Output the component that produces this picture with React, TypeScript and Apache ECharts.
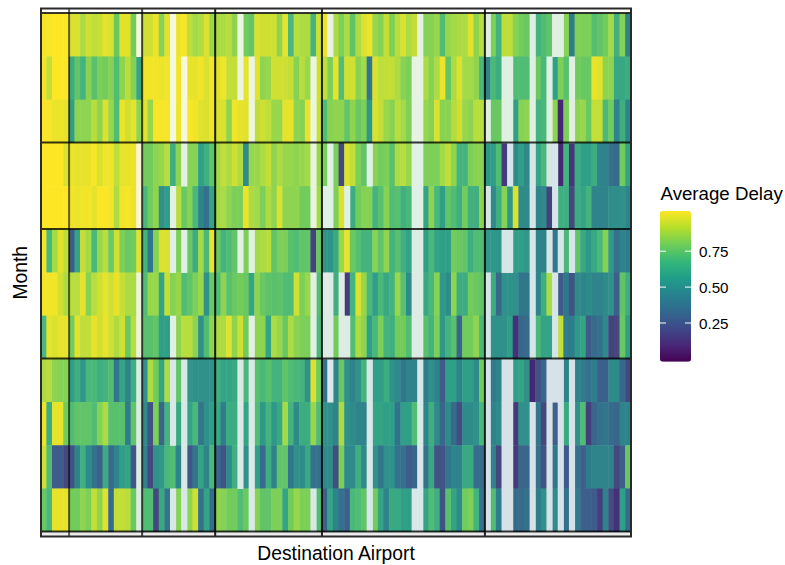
import React, { useEffect, useRef } from "react";
import * as echarts from "echarts";

const N = null;

const months = ["1", "2", "3", "4", "5", "6", "7", "8", "9", "10", "11", "12"];
const colGroupEnds = [5, 18, 31, 50, 79, 105];
const rowGroupEnds = [3, 5, 8, 12];
const legendTicks = ["0.25", "0.50", "0.75"];

const m1 = [.97,.98,1,1,1,
 .9,.9,.82,.88,.85,.87,.93,.9,.68,.92,.92,.7,N,
 .88,.88,.95,.74,.92,N,.95,.98,.85,.8,.83,.9,.78,
 .82,.82,.84,.76,N,.7,.66,.9,.88,.88,.88,.76,.93,.6,.84,.82,.82,.58,.88,
 .95,N,.82,.72,.82,.66,.82,.9,.95,.78,.74,.86,.72,.84,.9,.82,.86,N,.74,.74,.78,.62,.78,.8,.82,.82,.92,.76,.84,
 N,.72,.58,.85,.85,.74,.7,.68,N,.58,.62,.66,N,N,.74,.4,.73,.72,.72,.63,.66,.7,.8,.57,.74,.42];
const m2 = [.97,.86,1,1,1,
 .55,.66,.58,.75,.64,.72,.7,.74,.62,.76,.84,.74,.52,
 .97,.97,.97,.95,.96,N,.97,N,.94,.94,.97,.9,.96,
 .92,.96,.86,.86,N,.93,N,.92,.76,.78,.88,.88,.88,.86,.74,.84,.78,N,.88,
 .85,.72,.93,.62,.88,.88,.75,.8,.38,.9,.85,.86,.86,.82,.75,.72,N,N,.82,.74,.82,.95,.66,.82,.9,.8,.8,.76,.6,
 .42,.6,.55,N,N,.62,.62,.62,N,.68,.6,N,.5,.72,.64,N,.7,.68,.68,.94,.92,.76,.76,.53,.53,.55];
const m3 = [.99,.98,.95,.95,.93,
 .5,.76,.76,.76,.84,.76,.9,.78,.62,.95,.88,.93,.76,
 .92,.78,.98,.98,.98,N,.96,N,.98,.97,.92,.9,.96,
 .9,.9,.76,.96,.94,.92,N,.85,.88,.85,.78,.78,.93,.93,.76,.74,.94,N,.87,
 .62,.75,.76,.76,.66,.76,.68,.72,.48,.9,.86,.78,.74,.84,.8,.73,N,N,.78,.74,.9,.75,.75,.83,.88,.78,.76,.84,.84,
 N,.68,.68,N,N,.5,.74,.76,N,.58,.6,N,.76,.08,.72,N,.76,.78,.68,.86,.86,.6,.7,.42,.56,.42];
const m4 = [1,1,1,1,.9,
 .95,.93,.94,.94,.98,.9,.96,.96,.85,.93,.94,.95,N,
 .7,.7,.76,.78,.84,.56,.76,N,.74,.74,.5,.56,.66,
 .8,.86,.82,.88,.82,.44,.78,.78,.82,.86,.76,.82,.78,.78,.76,.78,.8,N,.78,
 .72,N,.72,.2,.9,.86,.72,.66,N,.75,.7,.72,.64,.82,.84,.78,N,N,.73,.72,.72,.8,.85,.76,.58,.58,.72,.75,.75,
 .48,.5,.62,.14,N,.44,.5,.44,N,.52,.6,N,N,.08,.58,.12,.55,.5,.5,.55,.42,.42,.36,.34,.7,.52];
const m5 = [1,1,1,1,1,
 .97,.95,.96,.97,.93,.99,.99,.97,.82,.97,.98,.95,N,
 .6,.7,.76,.46,.5,N,.84,.68,.74,.6,.42,.36,.52,
 .8,.82,.76,.72,.72,.95,.82,.8,.72,.82,.76,.9,.76,.76,.76,.7,.7,N,.8,
 N,N,.72,.9,N,.55,.7,.74,.74,.58,.64,.74,.62,.64,.57,.6,N,N,.52,.76,.6,.5,.66,.62,.56,.7,.57,.57,.76,
 N,.44,.56,.74,.48,.9,.44,.44,N,.42,.44,.18,N,.56,.56,.2,.55,.52,.58,.42,.42,.42,.45,.45,.46,.42];
const m6 = [.97,.6,.8,.92,.85,
 .28,.52,.86,.8,.6,.78,.84,.68,.88,.72,.68,.7,.92,
 .58,.38,.74,.9,.9,N,.72,N,.68,.55,.8,.6,.95,
 .68,.58,.62,.66,N,.72,N,.8,.82,.84,.66,.72,.72,.64,.62,.66,.66,.18,.68,
 .47,.47,.54,.78,.93,.68,.63,.58,.58,.74,.66,.76,.58,.64,.56,.52,N,N,.5,.6,.52,.5,.5,.7,.68,.66,.56,.62,.62,
 .48,.48,.47,N,N,.5,.5,.48,N,.42,.42,N,.38,N,.6,N,.66,.54,.48,.54,.6,.74,.48,.36,.42,.4];
const m7 = [.97,.97,.97,.88,.82,
 .84,.84,.93,.74,.84,.88,.93,.88,.94,.86,.82,.82,N,
 .62,.78,.78,.52,.86,.74,.78,.62,.66,.72,.78,.46,.68,
 .62,.76,.64,.68,.7,.68,.52,.76,.68,.65,.64,.65,.62,.62,.88,.72,.78,N,.62,
 N,N,.56,N,.14,.58,.9,.78,.6,.5,.6,.54,.58,.78,.64,.44,N,N,.54,.6,.74,.48,.44,.76,.55,.55,.7,.68,.66,
 N,.55,.33,.46,.46,.46,.38,.38,N,.42,.56,.82,N,.28,.38,.24,.44,.42,.44,.42,.42,.44,.46,.3,.66,.56];
const m8 = [.6,.93,.9,.93,.93,
 .7,.92,.85,.86,.94,.88,.94,.88,.82,.88,.68,.84,N,
 .64,.64,.66,.5,.5,N,.76,.84,.84,.76,.46,.62,.76,
 .82,.82,.92,.76,.88,.7,N,.76,.76,.52,.82,.78,.68,.82,.75,.72,.72,N,.6,
 N,N,.7,N,N,.62,.82,.76,.5,.6,.72,.58,.56,.7,.7,.62,N,N,.64,.58,.72,.48,.58,.64,.32,.7,.7,.76,.6,
 N,.46,.46,.46,.5,.1,.32,.34,N,.6,.52,.52,N,.86,.4,.4,.48,.52,.28,.34,.36,.44,.18,.2,.68,.5];
const m9 = [.82,.84,.76,.74,.74,
 .5,.56,.48,.6,.6,.56,.58,.62,.38,.52,.42,.56,N,
 .46,.82,.7,.52,.82,N,.66,N,.48,.46,.46,.46,.46,
 .56,.52,.52,.54,N,.6,N,.64,.6,.64,.58,.58,.66,.62,.6,.58,.46,.9,.7,
 .36,N,.42,.68,.46,.42,.46,.58,N,.5,.5,.55,.46,.44,.38,.42,.42,N,.4,.46,.42,.28,.5,.5,.42,.5,.5,.44,.7,
 N,.4,.42,N,N,.5,.52,.46,.08,.24,.32,N,N,N,.42,N,.42,.4,.36,.4,.3,.3,.44,.44,.33,.2];
const m10 = [.95,.55,.93,.93,.7,
 .62,.66,.66,.66,.62,.74,.82,.64,.64,.64,.4,.66,N,
 .44,.24,.72,.32,.58,N,.54,N,.52,.6,.38,.46,.5,
 .54,.4,.55,.55,N,.52,N,.62,.48,.58,.48,.54,.8,.58,.44,.55,.55,.78,.62,
 .46,.46,.42,.82,.46,.44,.42,.42,N,.52,.52,.5,.5,.36,.5,.5,.62,N,.42,.56,.44,.32,.44,.34,.22,.44,.44,.46,.6,
 N,.42,.44,N,N,.14,.46,.46,N,.38,.2,N,.3,N,.54,N,.46,.62,.16,.32,.36,.38,.34,.32,.42,.42];
const m11 = [.88,.62,.28,.28,.2,
 .24,.42,.56,.44,.36,.3,.55,.34,.42,.5,.52,.26,N,
 .42,.2,.46,.48,.6,.62,.42,N,.26,.38,.52,.42,.6,
 .32,.24,.44,.56,N,.46,N,.5,.34,.56,.42,.66,.66,.38,.46,.44,.54,.36,.36,
 .44,.44,.22,.72,.44,.44,.56,.44,N,.46,.38,.46,.46,.36,.36,.28,.32,N,.36,.54,.25,.25,.38,.42,.42,.54,.54,.34,.34,
 N,.42,.2,N,N,.14,.32,.32,N,.36,.24,N,.38,N,.28,N,.36,.3,.4,.42,.42,.42,.42,.2,.3,.68];
const m12 = [.68,.6,.94,.94,.94,
 .7,.7,.76,.72,.86,.76,.92,.34,.86,.86,.84,.68,N,
 .62,.62,.2,.54,.38,N,.74,N,.76,.88,.36,.52,.34,
 .76,.74,.7,.7,.62,.68,N,.74,.66,.66,.72,.72,.52,.7,.78,.72,.72,N,.62,
 .3,.52,.42,.36,.3,.6,.62,.66,N,.7,.52,.42,.54,.54,.5,.5,N,N,.52,.62,.56,.24,.64,.52,.44,.7,.72,.58,.36,
 N,.62,.4,N,N,.34,.34,.36,N,.4,.46,N,.44,N,.36,N,.4,.3,.3,.28,.16,.42,.22,.1,.5,.34];

const rows = [m1, m2, m3, m4, m5, m6, m7, m8, m9, m10, m11, m12];
const airports = m1.map((_, i) => `A${i + 1}`);

// Colour of a missing cell, by month group and airport group (a pale wash over white).
const missingWash = [
  ["#f6f7dc", "#f4f7d9", "#f6f8dc", "#ecf5de", "#e6f3e2", "#dff0e3"],
  ["#fdf8d8", "#fbf6d8", "#e2f1e2", "#e8f4dc", "#dff0e4", "#d6e6e8"],
  ["#ecf3dc", "#ecf3dc", "#e0f0e4", "#e2f0e2", "#dcece4", "#d6e6e8"],
  ["#dcebe2", "#dcebe2", "#d8e8e6", "#dae9e6", "#d8e8e8", "#d6e1e8"],
];

// The legend's pure scale, and the same scale as the cells show it (slightly washed).
const viridis = ["#440154", "#482878", "#3e4989", "#31688e", "#26828e", "#1f9e89", "#35b779", "#6ece58", "#b5de2b", "#fde725"];
const cellScale = ["#44055a", "#46307a", "#44487f", "#3c608b", "#2f7c8c", "#2f9f88", "#49b87a", "#72cc5c", "#a2da48", "#dae12e", "#fde725"];

const W = 785, H = 565;
const L = 41, R = 631, T = 13.5, B = 531.9;
const OUTER_T = 8.5, OUTER_B = 536.5;
const LEG_X = 660, LEG_T = 211, LEG_W = 31, LEG_H = 150.7;
const FONT = "Liberation Sans";
const colLineAlpha = [0.6, 0.72, 0.88, 0.85, 0.85];

function groupOf(ends: number[], i: number) {
  return ends.findIndex((e) => i < e);
}

export default function App() {
  const ref = useRef<HTMLDivElement>(null);
  useEffect(() => {
    document.body.style.margin = "0";
    const chart = echarts.init(ref.current!, undefined, { renderer: "svg" });
    const values: number[][] = [];
    const missing: number[][] = [];
    const G = colGroupEnds.length;
    rows.forEach((row, y) =>
      row.forEach((v, x) => {
        if (v === null) {
          missing.push([x, y, groupOf(rowGroupEnds, y) * G + groupOf(colGroupEnds, x)]);
        } else values.push([x, y, v as number]);
      })
    );
    const washPieces = missingWash.flat().map((color, i) => ({ value: i, color }));
    const cw = (R - L) / airports.length;
    const rh = (B - T) / months.length;
    const tickY = (i: number) => LEG_T + LEG_H - (38.7 + i * 35.9);
    const elements: any[] = [
      { type: "rect", shape: { x: L, y: B, width: R - L, height: OUTER_B - B }, style: { fill: "#ececec" }, z: 50 },
      ...[0, ...rowGroupEnds].map((e) => ({
        type: "line", z: 60, shape: { x1: L, x2: R, y1: T + rh * e - 0.5, y2: T + rh * e - 0.5 },
        style: { stroke: "#000", lineWidth: 2, opacity: 0.78 },
      })),
      ...colGroupEnds.slice(0, -1).map((e, i) => ({
        type: "line", z: 60, shape: { x1: L + cw * e, x2: L + cw * e, y1: OUTER_T, y2: OUTER_B },
        style: { stroke: "#000", lineWidth: 2, opacity: colLineAlpha[i] },
      })),
      {
        type: "rect", z: 70,
        shape: { x: L, y: OUTER_T, width: R - L, height: OUTER_B - OUTER_T },
        style: { fill: "none", stroke: "#2a2a2a", lineWidth: 2 },
      },
      { type: "text", z: 70, x: LEG_X + 0.5, y: 183.5, style: { text: "Average Delay", font: `18.7px "${FONT}"`, fill: "#000" } },
      ...legendTicks.flatMap((t, i) => [
        { type: "line", z: 70, shape: { x1: LEG_X, x2: LEG_X + 6, y1: tickY(i), y2: tickY(i) }, style: { stroke: "#fff", lineWidth: 1 } },
        { type: "line", z: 70, shape: { x1: LEG_X + LEG_W - 6, x2: LEG_X + LEG_W, y1: tickY(i), y2: tickY(i) }, style: { stroke: "#fff", lineWidth: 1 } },
        { type: "text", z: 70, x: 699, y: tickY(i) - 7.5, style: { text: t, font: `15.2px "${FONT}"`, fill: "#000" } },
      ]),
    ];
    chart.setOption({
      animation: false,
      backgroundColor: "#fff",
      textStyle: { fontFamily: FONT },
      grid: { left: L, top: T, width: R - L, height: B - T, containLabel: false, outerBoundsMode: "none" },
      tooltip: { show: false },
      xAxis: {
        type: "category", data: airports, boundaryGap: true,
        axisLine: { show: false }, axisTick: { show: false }, axisLabel: { show: false }, splitLine: { show: false },
        name: "Destination Airport", nameLocation: "middle", nameGap: 12,
        nameTextStyle: { fontFamily: FONT, fontSize: 19.3, color: "#000", verticalAlign: "top" },
      },
      yAxis: {
        type: "category", data: months, inverse: true, boundaryGap: true,
        axisLine: { show: false }, axisTick: { show: false }, axisLabel: { show: false }, splitLine: { show: false },
        name: "Month", nameLocation: "middle", nameGap: 11,
        nameTextStyle: { fontFamily: FONT, fontSize: 19.3, color: "#000" },
      },
      visualMap: [
        {
          type: "continuous", min: 0, max: 1, seriesIndex: 2, dimension: 2,
          left: LEG_X, top: LEG_T, itemWidth: LEG_W, itemHeight: LEG_H,
          calculable: false, text: ["", ""], padding: 0,
          inRange: { color: viridis },
        },
        { type: "continuous", show: false, min: 0, max: 1, seriesIndex: 0, dimension: 2, inRange: { color: cellScale } },
        { type: "piecewise", show: false, seriesIndex: 1, dimension: 2, pieces: washPieces },
      ],
      series: [
        { type: "heatmap", data: values, progressive: 0, silent: true, emphasis: { disabled: true } },
        { type: "heatmap", data: missing, progressive: 0, silent: true, emphasis: { disabled: true } },
        { type: "heatmap", data: [], silent: true },
      ],
      graphic: { elements },
    });
    return () => chart.dispose();
  }, []);
  return <div ref={ref} style={{ width: W, height: H }} />;
}
